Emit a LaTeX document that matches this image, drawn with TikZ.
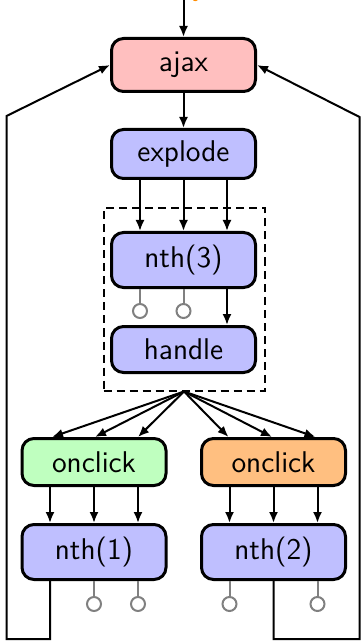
\documentclass[tikz,border=0pt]{standalone}
\usetikzlibrary{arrows.meta,calc}
\definecolor{pinkfill}{RGB}{255,191,191}
\definecolor{bluefill}{RGB}{191,191,255}
\definecolor{greenfill}{RGB}{191,255,191}
\definecolor{orangefill}{RGB}{255,191,128}
\definecolor{lolli}{RGB}{128,128,128}
\definecolor{toporange}{RGB}{255,140,0}
\tikzset{
  box/.style={draw, line width=1.5pt, rounded corners=6pt, minimum width=72pt,
    inner sep=0pt, font=\sffamily\fontsize{15}{18}\selectfont},
  arr/.style={line width=1pt, -{Latex[length=5.5pt,width=4.5pt]}},
  loop/.style={line width=1pt, -{Latex[length=5.5pt,width=4.5pt]}},
  lollistem/.style={draw=lolli, line width=1pt},
  lollihead/.style={draw=lolli, fill=white, line width=1pt, circle, inner sep=0pt, minimum size=7pt},
  grpbox/.style={draw, dashed, dash pattern=on 4pt off 2.5pt, line width=1pt, inner sep=0pt}
}
\begin{document}
\begin{tikzpicture}[x=0.5pt,y=-0.5pt]
\useasboundingbox (0,0) rectangle (361,641);
% nodes
\node[box, fill=pinkfill, minimum height=26.5pt] (ajax) at (183.5,65) {ajax};
\node[box, fill=bluefill, minimum height=24.5pt] (explode) at (183.5,154) {explode};
\node[grpbox, minimum width=80.5pt, minimum height=91pt] (grp) at (184,299.5) {};
\node[box, fill=bluefill, minimum height=27.5pt] (nth3) at (183.5,260) {nth(3)};
\node[box, fill=bluefill, minimum height=23pt] (handle) at (183.5,349.5) {handle};
\node[box, fill=greenfill, minimum height=23.5pt] (clickL) at (94,462) {onclick};
\node[box, fill=orangefill, minimum height=23.5pt] (clickR) at (273.5,462) {onclick};
\node[box, fill=bluefill, minimum height=27.5pt] (nth1) at (94,552) {nth(1)};
\node[box, fill=bluefill, minimum height=27.5pt] (nth2) at (273.5,552) {nth(2)};
\node[text=toporange, anchor=base, font=\sffamily\fontsize{15}{18}\selectfont, inner sep=0pt] (toplabel) at (199,-4) {y};
% input
\coordinate (in) at (183.5,-10);
\draw[arr] (in) -- (ajax.north);
\draw[arr] (ajax.south) -- (explode.north);
% explode -> nth3
\foreach \d in {-21.75,0,21.75}
  \draw[arr] ([xshift=\d pt]explode.south) -- ([xshift=\d pt]nth3.north);
% nth3 -> handle
\draw[arr] ([xshift=21.75pt]nth3.south) -- ([xshift=21.75pt]handle.north);
\foreach \d/\n in {-21.75/a,0/b} {
  \node[lollihead] (l3\n) at ([xshift=\d pt, yshift=-11pt]nth3.south) {};
  \draw[lollistem] ([xshift=\d pt]nth3.south) -- (l3\n.north);
}
% fan
\foreach \d in {-21,0.5,22}
  \draw[arr] (grp.south) -- ([xshift=\d pt]clickL.north);
\foreach \d in {-22.5,-0.75,21}
  \draw[arr] (grp.south) -- ([xshift=\d pt]clickR.north);
% onclick -> nth
\foreach \d in {-22,0,22} {
  \draw[arr] ([xshift=\d pt]clickL.south) -- ([xshift=\d pt]nth1.north);
  \draw[arr] ([xshift=\d pt]clickR.south) -- ([xshift=\d pt]nth2.north);
}
% lollipops bottom
\foreach \d/\n in {0/a,22/b} {
  \node[lollihead] (l1\n) at ([xshift=\d pt, yshift=-11.5pt]nth1.south) {};
  \draw[lollistem] ([xshift=\d pt]nth1.south) -- (l1\n.north);
}
\foreach \d/\n in {-22/a,22/b} {
  \node[lollihead] (l2\n) at ([xshift=\d pt, yshift=-11.5pt]nth2.south) {};
  \draw[lollistem] ([xshift=\d pt]nth2.south) -- (l2\n.north);
}
% feedback loops
\coordinate (lb) at (50,639);
\coordinate (lc) at (6.5,639);
\coordinate (lt) at (6.5,116);
\coordinate (rb) at (273.5,639);
\coordinate (rc) at (359.5,639);
\coordinate (rt) at (359.5,117);
\draw[loop] ([xshift=-22pt]nth1.south) -- (lb) -- (lc) -- (lt) -- (ajax.west);
\draw[loop] (nth2.south) -- (rb) -- (rc) -- (rt) -- (ajax.east);
\end{tikzpicture}
\end{document}
